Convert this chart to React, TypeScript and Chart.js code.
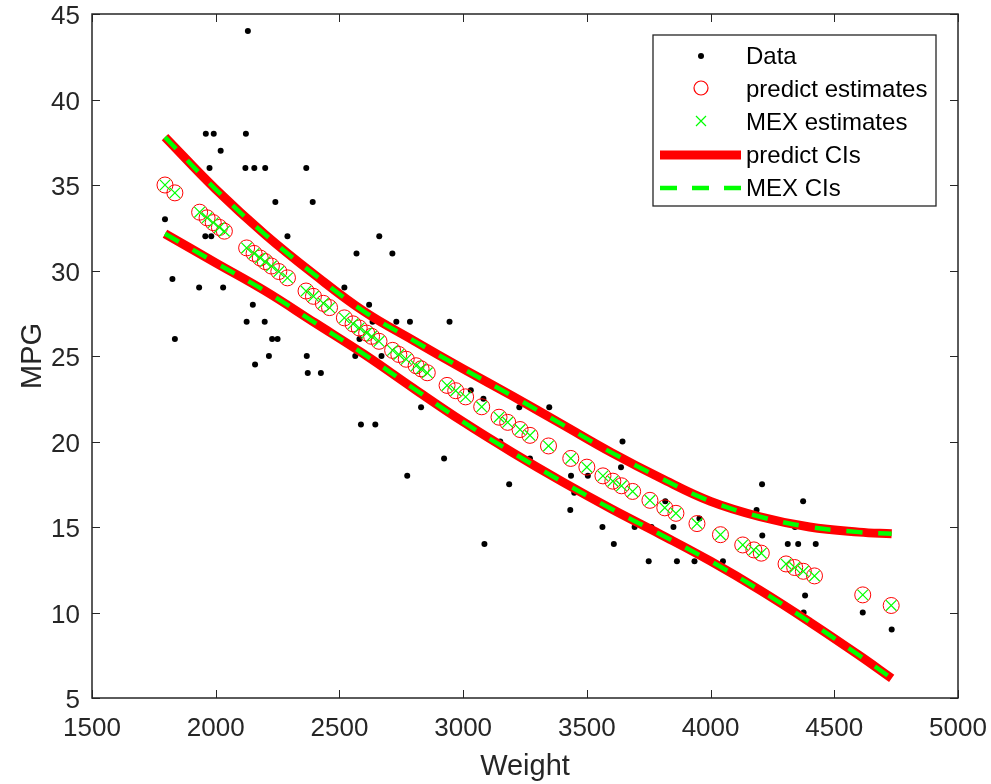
import React, { useEffect, useRef } from 'react';
import { Chart, registerables } from 'chart.js';

Chart.register(...registerables);

// ---- Data ----
const dataWeight = [
  2130, 1960, 1992, 2122, 2020, 1975, 2120, 2156, 2200, 2366, 2241, 2392, 1795,
  1958, 1982, 2290, 2661, 2569, 2714, 1825, 1933, 2030, 2520, 2150, 2620,
  2125, 2198, 2634, 2730, 2785, 2945, 1835, 2228, 2250, 2581, 2215, 2368, 2564,
  2670, 2159, 2372, 2425, 2830, 3227, 3348, 2587, 2645, 2923, 2774, 3086, 3186,
  3644, 3638, 3436, 3504, 3449, 3433, 3563, 3693, 3850, 3609, 3750, 3864, 3935,
  4050, 3817, 4208, 4186, 4209, 4374, 4312, 4354, 4425, 4382, 4376, 4615, 4732,
  4341, 3761, 3031, 3082, 3270, 3150, 3955,
];
const dataMPG = [
  44, 38, 38, 38, 37, 36, 36, 36, 36, 36, 34, 34, 33,
  32, 32, 32, 32, 31, 31, 29.5, 29, 29, 29, 28, 28,
  27, 27, 27, 27, 27, 27, 26, 26, 26, 26, 25, 25, 25,
  25, 24.5, 24, 24, 22, 22, 22, 21, 21, 19, 18, 14, 17.5,
  20, 18.5, 18, 18, 17, 16, 15, 15, 15, 14, 13, 13, 13,
  13, 16.5, 17.5, 16, 14.5, 16.5, 14, 14, 14, 11, 10, 10, 9,
  15, 15, 23, 22.5, 19, 20, 15.5,
];

const predWeight = [
  1795, 1835, 1935, 1965, 1990, 2015, 2035, 2125, 2155, 2180, 2200, 2225, 2255,
  2290, 2365, 2395, 2435, 2460, 2520, 2555, 2580, 2610, 2630, 2660, 2715, 2740,
  2770, 2810, 2830, 2855, 2935, 2970, 3010, 3075, 3145, 3180, 3230, 3270, 3345,
  3435, 3500, 3565, 3605, 3640, 3685, 3755, 3815, 3860, 3945, 4040, 4130, 4175,
  4205, 4305, 4340, 4375, 4420, 4615, 4730,
];
const predMPG = [
  35.0, 34.54, 33.41, 33.08, 32.8, 32.52, 32.3, 31.32, 31.0, 30.73, 30.52, 30.26, 29.94,
  29.57, 28.8, 28.49, 28.08, 27.83, 27.23, 26.88, 26.64, 26.34, 26.15, 25.86, 25.33, 25.09,
  24.81, 24.43, 24.25, 24.02, 23.28, 22.97, 22.61, 22.03, 21.42, 21.12, 20.7, 20.36, 19.74,
  19.01, 18.5, 17.99, 17.68, 17.41, 17.08, 16.56, 16.12, 15.8, 15.2, 14.55, 13.95, 13.66,
  13.47, 12.84, 12.63, 12.41, 12.14, 11.03, 10.41,
];
const mexMPG = [
  35.0, 34.54, 33.41, 33.08, 32.8, 32.52, 32.3, 31.32, 31.0, 30.73, 30.52, 30.26, 29.94,
  29.57, 28.8, 28.49, 28.08, 27.83, 27.23, 26.88, 26.64, 26.34, 26.15, 25.86, 25.33, 25.09,
  24.81, 24.43, 24.25, 24.02, 23.28, 22.97, 22.61, 22.03, 21.42, 21.12, 20.7, 20.36, 19.74,
  19.01, 18.5, 17.99, 17.68, 17.41, 17.08, 16.56, 16.12, 15.8, 15.2, 14.55, 13.95, 13.66,
  13.47, 12.84, 12.63, 12.41, 12.14, 11.03, 10.41,
];

const ciWeight = [1795, 2000, 2200, 2400, 2600, 2800, 3000, 3200, 3400, 3600, 3800, 4000, 4200, 4400, 4600, 4732];
const upperCI = [37.8, 34.75, 32.1, 29.75, 27.6, 25.9, 24.25, 22.65, 21.0, 19.35, 17.85, 16.5, 15.6, 15.0, 14.7, 14.6];
const lowerCI = [32.15, 30.45, 28.8, 26.95, 25.1, 23.1, 21.15, 19.35, 17.65, 16.05, 14.55, 13.0, 11.3, 9.45, 7.5, 6.15];

const xTickMin = 1500, xTickMax = 5000, xTickStep = 500;
const yTickMin = 5, yTickMax = 45, yTickStep = 5;

const seriesLabels = ['Data', 'predict estimates', 'MEX estimates', 'predict CIs', 'MEX CIs'];
const xTitle = 'Weight';
const yTitle = 'MPG';

const FONT = "'Liberation Sans', Arial, Helvetica, sans-serif";
const AX = '#262626';

const zip = (xs: number[], ys: number[]) => xs.map((x, i) => ({ x, y: ys[i] }));

const axesBoxPlugin = {
  id: 'axesBox',
  beforeDatasetsDraw(chart: any) {
    const { ctx, chartArea: a, scales } = chart;
    const xs = scales.x, ys = scales.y;
    ctx.save();
    ctx.strokeStyle = AX;
    ctx.lineWidth = 1;
    const tl = 8;
    ctx.beginPath();
    xs.ticks.forEach((t: any) => {
      const p = Math.round(xs.getPixelForValue(t.value)) + 0.5;
      ctx.moveTo(p, a.bottom); ctx.lineTo(p, a.bottom - tl);
      ctx.moveTo(p, a.top); ctx.lineTo(p, a.top + tl);
    });
    ys.ticks.forEach((t: any) => {
      const p = Math.round(ys.getPixelForValue(t.value)) + 0.5;
      ctx.moveTo(a.left, p); ctx.lineTo(a.left + tl, p);
      ctx.moveTo(a.right, p); ctx.lineTo(a.right - tl, p);
    });
    ctx.stroke();
    ctx.lineWidth = 1.5;
    ctx.strokeRect(a.left, a.top, a.right - a.left, a.bottom - a.top);
    ctx.restore();
  },
};

const legendPlugin = {
  id: 'matlabLegend',
  afterDraw(chart: any) {
    const { ctx } = chart;
    const ds = chart.data.datasets;
    const bx = 653, by = 35, bw = 283, bh = 171;
    const iconX = 701, textX = 746;
    const rows = [56, 89, 122, 155, 188];
    ctx.save();
    ctx.fillStyle = '#ffffff';
    ctx.fillRect(bx, by, bw, bh);
    ctx.strokeStyle = AX;
    ctx.lineWidth = 1.3;
    ctx.strokeRect(bx, by, bw, bh);

    ctx.fillStyle = '#000000';
    ctx.beginPath();
    ctx.arc(iconX, rows[0], 3, 0, Math.PI * 2);
    ctx.fill();

    ctx.strokeStyle = '#ff0000';
    ctx.lineWidth = 1.2;
    ctx.beginPath();
    ctx.arc(iconX, rows[1] - 1, 7, 0, Math.PI * 2);
    ctx.stroke();

    ctx.strokeStyle = '#00ff00';
    ctx.lineWidth = 1.2;
    const s = 5;
    ctx.beginPath();
    ctx.moveTo(iconX - s, rows[2] - s - 1); ctx.lineTo(iconX + s, rows[2] + s - 1);
    ctx.moveTo(iconX + s, rows[2] - s - 1); ctx.lineTo(iconX - s, rows[2] + s - 1);
    ctx.stroke();

    ctx.strokeStyle = '#ff0000';
    ctx.lineWidth = 9;
    ctx.lineCap = 'butt';
    ctx.beginPath();
    ctx.moveTo(660, rows[3]); ctx.lineTo(741, rows[3]);
    ctx.stroke();

    ctx.strokeStyle = '#00ff00';
    ctx.lineWidth = 4.5;
    ctx.setLineDash([17, 15]);
    ctx.beginPath();
    ctx.moveTo(660, rows[4]); ctx.lineTo(741, rows[4]);
    ctx.stroke();
    ctx.setLineDash([]);

    ctx.fillStyle = '#000000';
    ctx.font = `24px ${FONT}`;
    ctx.textAlign = 'left';
    ctx.textBaseline = 'middle';
    const idx = [0, 1, 2, 3, 5];
    idx.forEach((d, i) => {
      ctx.fillText(ds[d].label, textX, rows[i] + 1);
    });
    ctx.restore();
  },
};

const lineDefaults = {
  showLine: true,
  pointRadius: 0,
  tension: 0.4,
  borderCapStyle: 'butt',
};

export default function App() {
  const ref = useRef<HTMLCanvasElement | null>(null);
  useEffect(() => {
    if (!ref.current) return;
    const chart = new Chart(ref.current, {
      type: 'scatter',
      data: {
        datasets: [
          {
            label: seriesLabels[0],
            data: zip(dataWeight, dataMPG),
            pointStyle: 'circle',
            pointRadius: 3,
            backgroundColor: '#000000',
            borderWidth: 0,
            showLine: false,
            order: 6,
          },
          {
            label: seriesLabels[1],
            data: zip(predWeight, predMPG),
            pointStyle: 'circle',
            pointRadius: 8,
            backgroundColor: 'rgba(0,0,0,0)',
            borderColor: '#ff0000',
            borderWidth: 1,
            showLine: false,
            order: 5,
          },
          {
            label: seriesLabels[2],
            data: zip(predWeight, mexMPG),
            pointStyle: 'crossRot',
            pointRadius: 7.5,
            borderColor: '#00ff00',
            backgroundColor: '#00ff00',
            borderWidth: 1.2,
            showLine: false,
            order: 4,
          },
          { ...lineDefaults, label: seriesLabels[3], data: zip(ciWeight, upperCI), borderColor: '#ff0000', borderWidth: 9, order: 3 },
          { ...lineDefaults, label: seriesLabels[3], data: zip(ciWeight, lowerCI), borderColor: '#ff0000', borderWidth: 9, order: 3 },
          { ...lineDefaults, label: seriesLabels[4], data: zip(ciWeight, upperCI), borderColor: '#00ff00', borderWidth: 4.5, borderDash: [16, 16], order: 1 },
          { ...lineDefaults, label: seriesLabels[4], data: zip(ciWeight, lowerCI), borderColor: '#00ff00', borderWidth: 4.5, borderDash: [16, 16], order: 1 },
        ] as any,
      },
      options: {
        animation: false,
        responsive: true,
        maintainAspectRatio: false,
        events: [],
        layout: { padding: { top: 14, right: 33, left: 0, bottom: 0 } },
        plugins: {
          legend: { display: false },
          tooltip: { enabled: false },
          title: { display: false },
        },
        scales: {
          x: {
            type: 'linear',
            min: xTickMin,
            max: xTickMax,
            ticks: {
              stepSize: xTickStep,
              color: AX,
              padding: 15,
              maxRotation: 0,
              font: { family: FONT, size: 26 },
              callback: (v: any) => String(v),
            },
            grid: { display: false, drawTicks: false },
            border: { display: false },
            title: {
              display: true,
              text: xTitle,
              color: AX,
              font: { family: FONT, size: 29 },
              padding: { top: 0, bottom: 0 },
            },
            afterFit(scale: any) {
              scale.height = 86;
              scale.paddingLeft = 0;
              scale.paddingRight = 0;
            },
          },
          y: {
            type: 'linear',
            min: yTickMin,
            max: yTickMax,
            ticks: {
              stepSize: yTickStep,
              color: AX,
              padding: 12,
              labelOffset: 3,
              font: { family: FONT, size: 26 },
              callback: (v: any) => String(v),
            },
            grid: { display: false, drawTicks: false },
            border: { display: false },
            title: {
              display: true,
              text: yTitle,
              color: AX,
              font: { family: FONT, size: 29 },
              padding: { top: 16, bottom: 0 },
            },
            afterFit(scale: any) {
              scale.width = 92;
              scale.paddingTop = 0;
              scale.paddingBottom = 0;
            },
          },
        },
      } as any,
      plugins: [axesBoxPlugin, legendPlugin],
    });
    return () => chart.destroy();
  }, []);

  return (
    <div style={{ position: 'absolute', left: 0, top: 0, width: 991, height: 784, background: '#ffffff' }}>
      <canvas ref={ref} />
    </div>
  );
}
